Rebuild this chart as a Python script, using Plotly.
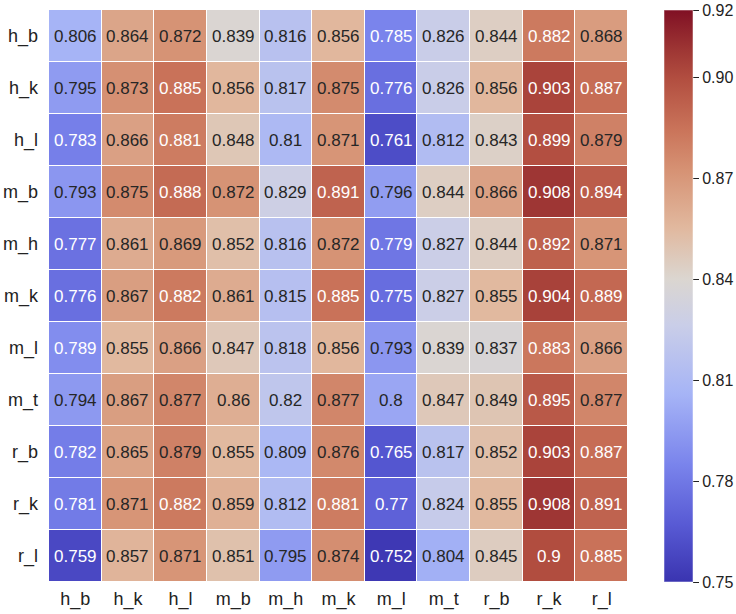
import plotly.graph_objects as go

labels = ["h_b", "h_k", "h_l", "m_b", "m_h", "m_k", "m_l", "m_t", "r_b", "r_k", "r_l"]
col_labels = ["h_b", "h_k", "h_l", "m_b", "m_h", "m_k", "m_l", "m_t", "r_b", "r_k", "r_l"]

row_h_b = [0.806, 0.864, 0.872, 0.839, 0.816, 0.856, 0.785, 0.826, 0.844, 0.882, 0.868]
row_h_k = [0.795, 0.873, 0.885, 0.856, 0.817, 0.875, 0.776, 0.826, 0.856, 0.903, 0.887]
row_h_l = [0.783, 0.866, 0.881, 0.848, 0.81, 0.871, 0.761, 0.812, 0.843, 0.899, 0.879]
row_m_b = [0.793, 0.875, 0.888, 0.872, 0.829, 0.891, 0.796, 0.844, 0.866, 0.908, 0.894]
row_m_h = [0.777, 0.861, 0.869, 0.852, 0.816, 0.872, 0.779, 0.827, 0.844, 0.892, 0.871]
row_m_k = [0.776, 0.867, 0.882, 0.861, 0.815, 0.885, 0.775, 0.827, 0.855, 0.904, 0.889]
row_m_l = [0.789, 0.855, 0.866, 0.847, 0.818, 0.856, 0.793, 0.839, 0.837, 0.883, 0.866]
row_m_t = [0.794, 0.867, 0.877, 0.86, 0.82, 0.877, 0.8, 0.847, 0.849, 0.895, 0.877]
row_r_b = [0.782, 0.865, 0.879, 0.855, 0.809, 0.876, 0.765, 0.817, 0.852, 0.903, 0.887]
row_r_k = [0.781, 0.871, 0.882, 0.859, 0.812, 0.881, 0.77, 0.824, 0.855, 0.908, 0.891]
row_r_l = [0.759, 0.857, 0.871, 0.851, 0.795, 0.874, 0.752, 0.804, 0.845, 0.9, 0.885]

z = [row_h_b, row_h_k, row_h_l, row_m_b, row_m_h, row_m_k,
     row_m_l, row_m_t, row_r_b, row_r_k, row_r_l]

cbar_ticks = [0.75, 0.78, 0.81, 0.84, 0.87, 0.90, 0.92]
vmin, vmax = 0.75, 0.92

# coolwarm-like scale, a bit deeper at both ends like the source image
coolwarm = [
    [0.0, "rgb(58,52,176)"],
    [0.10, "rgb(88,90,212)"],
    [0.206, "rgb(122,132,236)"],
    [0.329, "rgb(166,180,246)"],
    [0.45, "rgb(202,206,232)"],
    [0.53, "rgb(219,214,208)"],
    [0.62, "rgb(225,184,158)"],
    [0.72, "rgb(214,146,116)"],
    [0.79, "rgb(202,116,90)"],
    [0.88, "rgb(178,78,64)"],
    [0.93, "rgb(158,54,52)"],
    [1.0, "rgb(128,16,36)"],
]

FONT = "Liberation Sans, Arial, sans-serif"

fig = go.Figure(
    go.Heatmap(
        z=z,
        x=col_labels,
        y=labels,
        zmin=vmin,
        zmax=vmax,
        colorscale=coolwarm,
        xgap=1,
        ygap=1,
        colorbar=dict(
            x=1.062,
            xanchor="left",
            y=0.5,
            len=1.0,
            thickness=29,
            xpad=0,
            ypad=0,
            outlinewidth=1,
            outlinecolor="rgba(255,255,255,0.5)",
            tickvals=cbar_ticks,
            ticktext=[f"{t:.2f}" for t in cbar_ticks],
            ticks="outside",
            ticklen=6,
            tickcolor="#222",
            tickfont=dict(family=FONT, size=16, color="#222"),
        ),
    )
)

# cell annotations, white text on the dark ends of the scale
for i, row in enumerate(z):
    for j, v in enumerate(row):
        color = "white" if (v <= 0.790 or v >= 0.880) else "#262626"
        fig.add_annotation(
            x=col_labels[j], y=labels[i], text=f"{v:.3g}", showarrow=False,
            font=dict(family=FONT, size=17, color=color),
        )

fig.update_layout(
    width=736,
    height=614,
    margin=dict(l=49, r=108, t=10, b=32, autoexpand=False),
    paper_bgcolor="white",
    plot_bgcolor="white",
    xaxis=dict(showgrid=False, zeroline=False, ticks="", automargin=False,
               ticklabelstandoff=4,
               tickfont=dict(family=FONT, size=18, color="#222")),
    yaxis=dict(autorange="reversed", showgrid=False, zeroline=False, ticks="", automargin=False,
               ticklabelstandoff=10,
               tickfont=dict(family=FONT, size=18, color="#222")),
)

# page body has a default 8px margin; drop it so the figure fills the window
fig.write_html("out.html", config={"displayModeBar": False},
               post_script="document.body.style.margin='0';")
